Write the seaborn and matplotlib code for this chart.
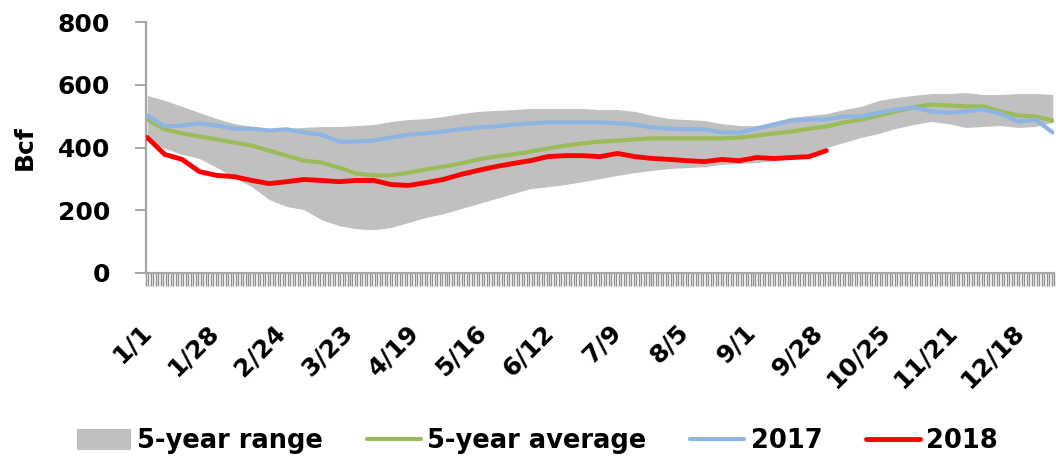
import numpy as np
import pandas as pd
import matplotlib
matplotlib.use("Agg")
import matplotlib.pyplot as plt
from matplotlib.ticker import FixedLocator, NullFormatter
import seaborn as sns

# Weekly sample days (day-of-year index, 0 = Jan 1)
week_days = list(range(0, 365, 7))

range_high = [566, 550, 531, 511, 492, 476, 467, 461, 461, 464, 467, 467, 470, 473,
              483, 489, 492, 499, 508, 515, 518, 521, 524, 524, 524, 524, 521, 521,
              515, 502, 492, 489, 486, 476, 470, 470, 483, 496, 502, 508, 521, 531,
              550, 559, 566, 572, 572, 575, 569, 569, 572, 572, 569]
range_low = [425, 397, 378, 365, 336, 304, 275, 234, 212, 202, 170, 151, 141, 138,
             145, 161, 177, 189, 205, 221, 237, 253, 269, 275, 282, 291, 301, 311,
             320, 327, 333, 336, 339, 346, 349, 352, 358, 371, 381, 400, 416, 432,
             445, 461, 473, 483, 476, 464, 467, 470, 464, 467, 480]
avg_5yr = [489, 458, 445, 435, 426, 416, 406, 390, 374, 358, 352, 336, 317, 311,
           311, 320, 330, 339, 349, 362, 371, 378, 387, 397, 406, 413, 419, 422,
           426, 429, 429, 429, 429, 429, 432, 438, 445, 451, 460, 467, 480, 489,
           502, 515, 528, 537, 534, 531, 531, 515, 502, 499, 486]
y2017 = [502, 467, 470, 477, 470, 460, 460, 454, 458, 448, 441, 419, 419, 422,
         432, 441, 445, 451, 458, 464, 467, 473, 477, 480, 480, 480, 480, 477,
         473, 464, 460, 458, 458, 448, 448, 460, 473, 486, 489, 489, 499, 499,
         511, 521, 528, 515, 511, 515, 521, 508, 483, 489, 448]
y2018 = [432, 378, 362, 323, 311, 307, 295, 285, 291, 298, 295, 291, 295, 295,
         282, 279, 288, 298, 314, 327, 339, 349, 358, 371, 374, 374, 371, 381,
         371, 365, 362, 358, 355, 362, 358, 368, 365, 368, 371, 390]

tick_labels = ["1/1", "1/28", "2/24", "3/23", "4/19", "5/16", "6/12", "7/9",
               "8/5", "9/1", "9/28", "10/25", "11/21", "12/18"]
y_ticks = [0, 200, 400, 600, 800]

df = pd.DataFrame({
    "day": week_days,
    "low": range_low,
    "high": range_high,
    "5-year average": avg_5yr,
    "2017": y2017,
    "2018": y2018 + [np.nan] * (len(week_days) - len(y2018)),
})

sns.set_style("white")
plt.rcParams["font.family"] = ["DejaVu Sans"]
plt.rcParams["font.weight"] = "bold"
plt.rcParams["text.color"] = "black"
plt.rcParams["axes.labelcolor"] = "black"
plt.rcParams["xtick.labelcolor"] = "black"
plt.rcParams["ytick.labelcolor"] = "black"

fig = plt.figure(figsize=(10.56, 4.62), dpi=100)
ax = fig.add_axes([146 / 1056, 1 - 273 / 462, 908 / 1056, 251 / 462])

ax.fill_between(df["day"], df["low"], df["high"], color="#c0c0c0",
                linewidth=0, label="5-year range", zorder=1)
sns.lineplot(data=df, x="day", y="5-year average", ax=ax, color="#9bbb59",
             linewidth=3.0, label="5-year average", zorder=2)
sns.lineplot(data=df, x="day", y="2017", ax=ax, color="#8eb4e3",
             linewidth=3.0, label="2017", zorder=3)
sns.lineplot(data=df.dropna(subset=["2018"]), x="day", y="2018", ax=ax,
             color="#ff0000", linewidth=3.5, label="2018", zorder=4)

ax.set_xlim(-0.5, 364.5)
ax.set_ylim(0, 800)
ax.set_yticks(y_ticks)
ax.set_yticklabels([str(v) for v in y_ticks], fontsize=18, fontweight="bold",
                   color="black")

# Category-style x axis: a tick mark between every day, labels every 27 days
ax.set_xticks([27 * i for i in range(len(tick_labels))])
ax.set_xticklabels(tick_labels, fontsize=18, fontweight="bold", rotation=45,
                   ha="right", va="center", rotation_mode="anchor",
                   color="black")
ax.xaxis.set_minor_locator(FixedLocator(np.arange(-0.5, 365, 1)))
ax.xaxis.set_minor_formatter(NullFormatter())
ax.tick_params(axis="x", which="major", length=0, pad=40)
ax.tick_params(axis="x", which="minor", length=9, width=1.0, color="#909090",
               direction="out", bottom=True)
ax.tick_params(axis="y", length=8, width=1.4, color="#a6a6a6", direction="out",
               left=True, pad=18)

for side in ("top", "right"):
    ax.spines[side].set_visible(False)
for side in ("left", "bottom"):
    ax.spines[side].set_color("#a6a6a6")
    ax.spines[side].set_linewidth(1.6)

ax.set_xlabel("")
ax.set_ylabel("Bcf", fontsize=18, fontweight="bold", color="black")
ax.yaxis.set_label_coords(-0.12, 0.5)

ax.get_legend().remove()
handles, labels = ax.get_legend_handles_labels()
fig.legend(handles, labels, loc="center", bbox_to_anchor=(0.509, 0.045),
           ncol=4, frameon=False, prop={"size": 18.5, "weight": "bold"},
           labelcolor="black", handlelength=2.1, handleheight=0.85,
           handletextpad=0.25, columnspacing=1.7)

fig.savefig("out.png", dpi=100)
